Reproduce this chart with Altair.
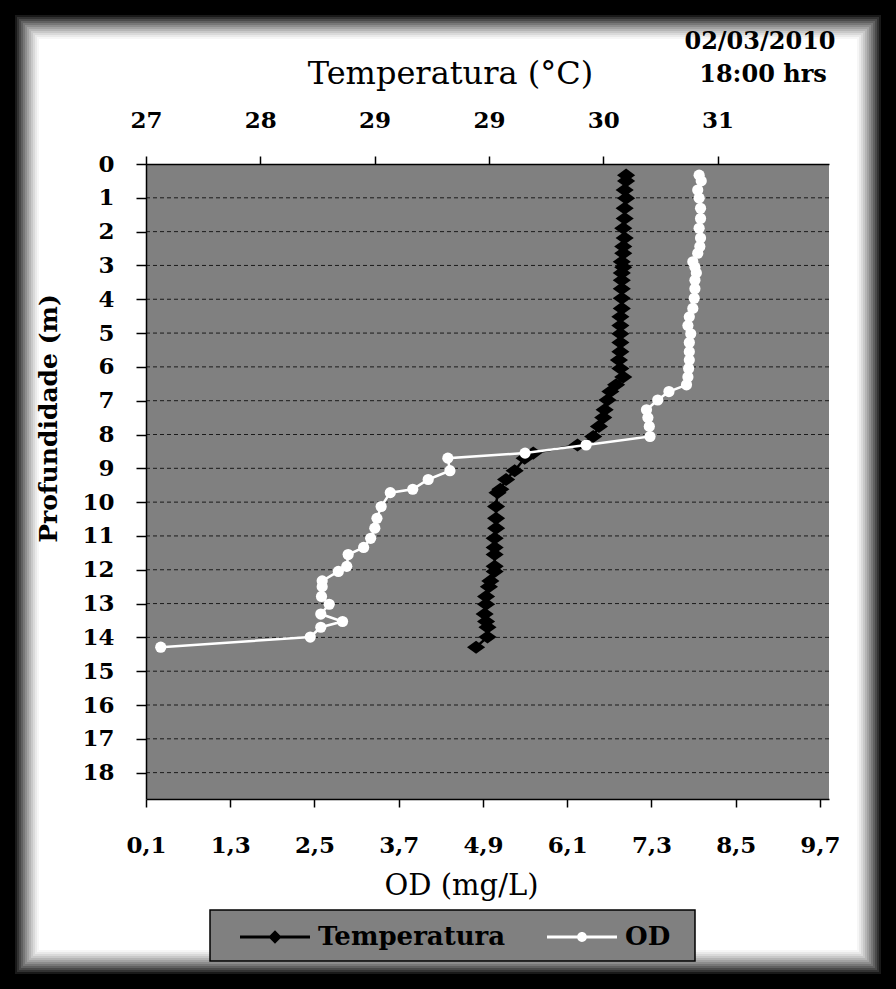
import altair as alt
import pandas as pd

# ---- data ----
profundidade = [0.33, 0.50, 0.77, 1.01, 1.31, 1.61, 1.90, 2.19, 2.44, 2.64,
                2.89, 3.05, 3.22, 3.44, 3.69, 3.97, 4.27, 4.52, 4.78, 5.02,
                5.28, 5.55, 5.80, 6.05, 6.30, 6.53, 6.73, 6.98, 7.27, 7.50,
                7.76, 8.06, 8.31, 8.55, 8.70, 9.07, 9.33, 9.62, 9.72, 10.13,
                10.48, 10.77, 11.07, 11.34, 11.55, 11.90, 12.05, 12.33, 12.50, 12.79,
                13.02, 13.31, 13.53, 13.70, 13.99, 14.29]
temperatura = [30.36, 30.36, 30.35, 30.36, 30.35, 30.35, 30.34, 30.35, 30.34, 30.34,
               30.33, 30.34, 30.33, 30.33, 30.33, 30.33, 30.33, 30.32, 30.32, 30.32,
               30.32, 30.32, 30.31, 30.32, 30.34, 30.29, 30.25, 30.23, 30.21, 30.20,
               30.17, 30.13, 30.02, 29.71, 29.65, 29.58, 29.52, 29.48, 29.46, 29.45,
               29.45, 29.45, 29.44, 29.44, 29.44, 29.44, 29.44, 29.41, 29.40, 29.38,
               29.38, 29.37, 29.38, 29.39, 29.39, 29.31]
od = [7.98, 8.01, 7.96, 7.98, 8.00, 8.00, 7.98, 8.00, 7.99, 7.96,
      7.89, 7.92, 7.94, 7.92, 7.92, 7.91, 7.89, 7.84, 7.82, 7.86,
      7.84, 7.84, 7.84, 7.83, 7.82, 7.80, 7.55, 7.39, 7.23, 7.25,
      7.27, 7.28, 6.37, 5.50, 4.40, 4.43, 4.12, 3.90, 3.58, 3.45,
      3.39, 3.36, 3.30, 3.20, 2.98, 2.96, 2.84, 2.61, 2.61, 2.60,
      2.71, 2.59, 2.90, 2.59, 2.44, 0.31]

prof_ticks = list(range(0, 19))
od_ticks = [0.1, 1.3, 2.5, 3.7, 4.9, 6.1, 7.3, 8.5, 9.7]
temp_ticks = [27.0, 27.8, 28.6, 29.4, 30.2, 31.0]
series = ["Temperatura", "OD"]
date_lines = ["02/03/2010", "18:00 hrs"]
titles = {"temp": "Temperatura (°C)", "od": "OD (mg/L)", "prof": "Profundidade (m)"}

df = pd.DataFrame({"prof": profundidade, "temp": temperatura, "od": od})
grid_df = pd.DataFrame({"prof": prof_ticks[1:]})
dummy = pd.DataFrame({"k": [0]})
legend_df = pd.DataFrame({"serie": series})

# ---- layout constants ----
W, H = 683, 635
PL, PT = 146, 164
CW, CH = 896, 989
FONT = "DejaVu Serif"
GRAY = "#808080"

common_axis = dict(domainColor="black", domainWidth=1.5, tickColor="black", tickWidth=1.5,
                   labelFont=FONT, labelFontWeight="bold", labelFontSize=23, labelColor="black",
                   titleFont=FONT, titleColor="black", labelFlush=False, labelOverlap=False,
                   zindex=1, grid=False)

y_scale = alt.Scale(domain=[0, 18.78], reverse=True, nice=False, zero=False)
y_enc = alt.Y("prof:Q", scale=y_scale,
              axis=alt.Axis(values=prof_ticks, format="d", title=titles["prof"],
                            tickSize=10, labelPadding=22,
                            titleX=-98, titleY=254, titleAngle=270, titleAlign="center",
                            titleBaseline="middle", titleFontSize=25, titleFontWeight="bold",
                            **common_axis))

x_temp = alt.X("temp:Q", scale=alt.Scale(domain=[27, 31.78], nice=False, zero=False),
               axis=alt.Axis(orient="top", values=temp_ticks, format=".0f", title=titles["temp"],
                             tickSize=8, labelPadding=24,
                             titleX=304, titleY=-91, titleAlign="center", titleBaseline="middle",
                             titleAngle=0, titleFontSize=32, titleFontWeight="normal",
                             **common_axis))

x_od = alt.X("od:Q", scale=alt.Scale(domain=[0.1, 9.83], nice=False, zero=False),
             axis=alt.Axis(orient="bottom", values=od_ticks,
                           labelExpr="replace(format(datum.value, '.1f'), '.', ',')",
                           title=titles["od"], tickSize=8, labelPadding=27,
                           titleX=315, titleY=86, titleAlign="center", titleBaseline="middle",
                           titleAngle=0, titleFontSize=29, titleFontWeight="normal",
                           **common_axis))

# ---- decorative frame (black border fading into white panel) ----
frame_layers = []
frame_layers.append(
    alt.Chart(dummy).mark_rect(fillOpacity=0, stroke="black", strokeWidth=30).encode(
        x=alt.value(-PL), x2=alt.value(CW - PL), y=alt.value(-PT), y2=alt.value(CH - PT))
)
for j in range(12):
    inset = 15 + 2 * j + 1
    op = (1 - (j + 1) / 13.0) ** 1.3
    frame_layers.append(
        alt.Chart(dummy).mark_rect(fillOpacity=0, stroke="black", strokeWidth=2, strokeOpacity=op).encode(
            x=alt.value(inset - PL), x2=alt.value(CW - inset - PL),
            y=alt.value(inset - PT), y2=alt.value(CH - inset - PT))
    )

# ---- plot area background + dashed grid ----
plot_bg = alt.Chart(dummy).mark_rect(fill=GRAY).encode(
    x=alt.value(0), x2=alt.value(W), y=alt.value(0), y2=alt.value(H))
grid = alt.Chart(grid_df).mark_rule(color="#1a1a1a", strokeWidth=1, strokeDash=[4, 3]).encode(
    y=y_enc, x=alt.value(0), x2=alt.value(W))

# ---- data layers ----
temp_line = alt.Chart(df).mark_line(color="black", strokeWidth=2.5).encode(
    x=x_temp, y=y_enc, order="prof:Q")
temp_pts = alt.Chart(df).mark_point(filled=True, color="black", opacity=1, size=330,
                                    shape="M-1,0L0,-0.72L1,0L0,0.72Z").encode(x=x_temp, y=y_enc)
temp_layer = alt.layer(temp_line, temp_pts)

od_line = alt.Chart(df).mark_line(color="white", strokeWidth=2.5).encode(
    x=x_od, y=y_enc, order="prof:Q")
od_pts = alt.Chart(df).mark_point(filled=True, color="white", opacity=1, size=125,
                                  shape="circle").encode(x=x_od, y=y_enc)
od_layer = alt.layer(od_line, od_pts)

# ---- legend (box + real legend from an empty layer) ----
legend_box = alt.Chart(dummy).mark_rect(fill=GRAY, stroke="black", strokeWidth=1.5).encode(
    x=alt.value(210 - PL), x2=alt.value(695 - PL), y=alt.value(910 - PT), y2=alt.value(961 - PT))

sym_temp = "M-1,-0.045L1,-0.045L1,0.045L-1,0.045Z M-0.19,0L0,-0.19L0.19,0L0,0.19Z"
sym_od = "M-1,-0.045L1,-0.045L1,0.045L-1,0.045Z M0.14,0A0.14,0.14,0,1,1,-0.14,0A0.14,0.14,0,1,1,0.14,0Z"

leg = alt.Legend(title=None, orient="none", legendX=94, legendY=738, direction="horizontal",
                 symbolSize=4900, symbolStrokeWidth=0, labelFont=FONT, labelFontWeight="bold",
                 labelFontSize=26, labelColor="black", labelOffset=8, columnPadding=41,
                 padding=0, symbolOpacity=1, labelLimit=400)
legend_layer = alt.Chart(legend_df).mark_point(filled=True, opacity=1).encode(
    color=alt.Color("serie:N", scale=alt.Scale(domain=series, range=["black", "white"]), legend=leg),
    shape=alt.Shape("serie:N", scale=alt.Scale(domain=series, range=[sym_temp, sym_od]), legend=leg),
).transform_filter("false")

# ---- date/time annotation ----
date1 = alt.Chart(dummy).mark_text(font=FONT, fontWeight="bold", fontSize=24, color="black",
                                   align="center", baseline="middle").encode(
    x=alt.value(760 - PL), y=alt.value(42 - PT), text=alt.value(date_lines[0]))
date2 = alt.Chart(dummy).mark_text(font=FONT, fontWeight="bold", fontSize=24, color="black",
                                   align="center", baseline="middle").encode(
    x=alt.value(763 - PL), y=alt.value(75 - PT), text=alt.value(date_lines[1]))

chart = alt.layer(
    *frame_layers, plot_bg, grid, legend_box, temp_layer, od_layer, legend_layer, date1, date2
).resolve_scale(x="independent").properties(
    width=W, height=H,
    autosize=alt.AutoSizeParams(type="none"),
    padding={"left": PL, "top": PT, "right": CW - PL - W, "bottom": CH - PT - H},
).configure(background="white").configure_view(stroke="transparent")

chart.save("out.html", embed_options={"renderer": "svg", "actions": False})
